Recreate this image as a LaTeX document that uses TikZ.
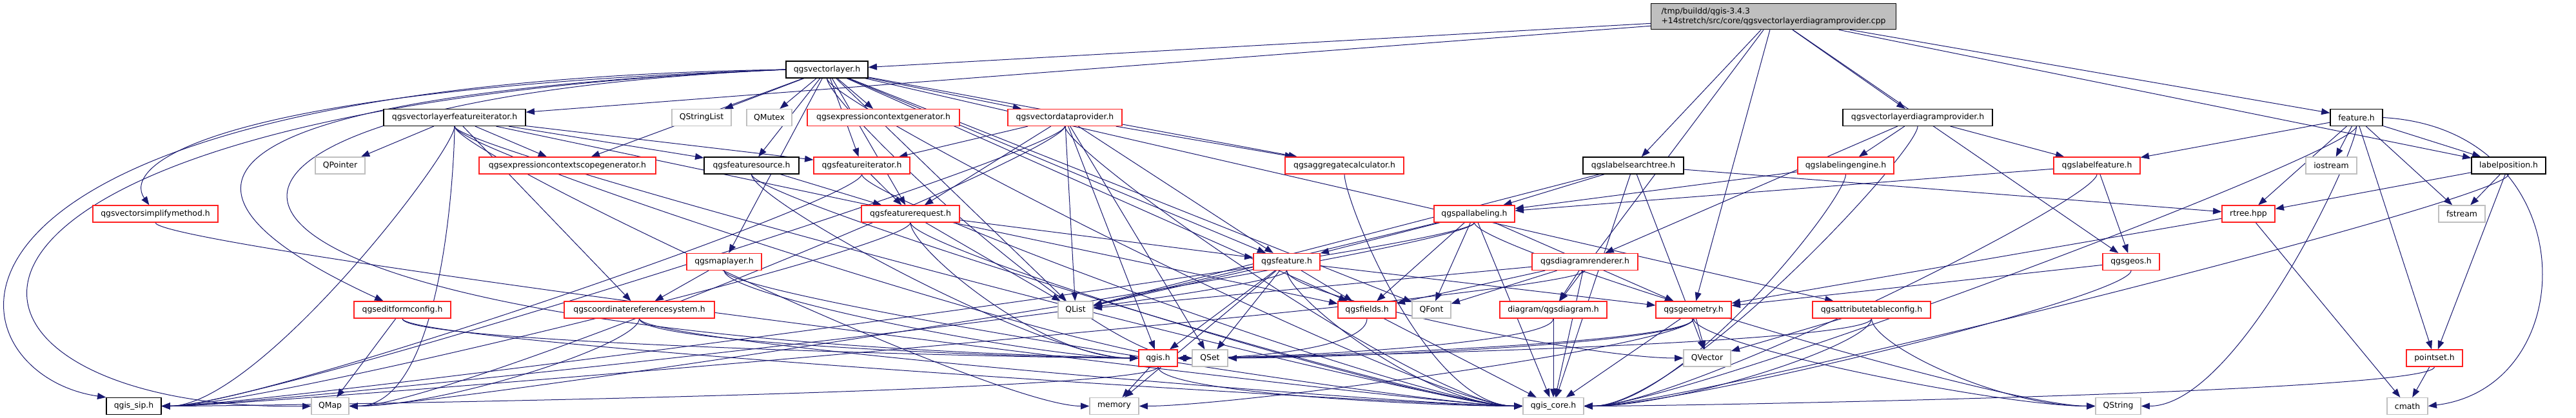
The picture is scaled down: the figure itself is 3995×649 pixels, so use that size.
\documentclass[tikz,border=0pt]{standalone}
\usepackage{fontspec}
\setmainfont{DejaVu Sans}
\usetikzlibrary{arrows.meta}
\definecolor{edgeblue}{HTML}{191970}
\definecolor{boxgray}{HTML}{BFBFBF}
\definecolor{boxred}{HTML}{FF2020}
\pgfdeclarelayer{edges}
\pgfsetlayers{edges,main}

\begin{document}
\begin{tikzpicture}[x=0.75pt,y=-0.75pt,
    file/.style={draw=black, fill=white, line width=0.9pt, minimum height=19.5pt,
      inner sep=1pt, font=\fontsize{9.3}{11.2}\selectfont},
    part/.style={file, draw=boxred},
    sys/.style={file, draw=boxgray},
    srcfile/.style={file, fill=boxgray, align=left, minimum height=30pt},
    inc/.style={draw=edgeblue, line width=0.75pt, -{Triangle[length=10pt,width=7.5pt]}}]
  \useasboundingbox (0,0) rectangle (3995,649);
  % Source file
  \node[srcfile, minimum width=285pt] (top) at (2750.5,25.7)
    {/tmp/buildd/qgis-3.4.3\\+14stretch/src/core/qgsvectorlayerdiagramprovider.cpp};
  % Row 1
  \node[file, minimum width=95.25pt] (vl) at (1282.5,108) {qgsvectorlayer.h};
  % Row 2
  \node[file, minimum width=165pt] (vlfi) at (705,182.5) {qgsvectorlayerfeatureiterator.h};
  \node[sys, minimum width=69pt] (qsl) at (1088,182.5) {QStringList};
  \node[sys, minimum width=52.5pt] (qmutex) at (1193,182.5) {QMutex};
  \node[part, minimum width=177pt] (ecg) at (1370,182.5) {qgsexpressioncontextgenerator.h};
  \node[part, minimum width=132.75pt] (vdp) at (1651.5,182.5) {qgsvectordataprovider.h};
  \node[file, minimum width=174pt] (vldp) at (2974,182.5) {qgsvectorlayerdiagramprovider.h};
  \node[file, minimum width=60.75pt] (feat) at (3654.5,182.5) {feature.h};
  % Row 3
  \node[sys, minimum width=57.75pt] (qptr) at (527.5,257) {QPointer};
  \node[part, minimum width=205.5pt] (ecsg) at (880,257) {qgsexpressioncontextscopegenerator.h};
  \node[file, minimum width=110.25pt] (fsrc) at (1165.5,257) {qgsfeaturesource.h};
  \node[part, minimum width=111.75pt] (fit) at (1336.5,257) {qgsfeatureiterator.h};
  \node[part, minimum width=138pt] (agg) at (2085,257) {qgsaggregatecalculator.h};
  \node[file, minimum width=117pt] (lst) at (2533,257) {qgslabelsearchtree.h};
  \node[part, minimum width=111.75pt] (leng) at (2862.5,257) {qgslabelingengine.h};
  \node[part, minimum width=100.5pt] (lfeat) at (3252,257) {qgslabelfeature.h};
  \node[sys, minimum width=59.25pt] (iostr) at (3615.5,257) {iostream};
  \node[file, minimum width=86.25pt] (lpos) at (3890.5,257) {labelposition.h};
  % Row 4
  \node[part, minimum width=145.5pt] (vsimp) at (241,332) {qgsvectorsimplifymethod.h};
  \node[part, minimum width=114pt] (freq) at (1412,332) {qgsfeaturerequest.h};
  \node[part, minimum width=93.75pt] (pal) at (2286.5,332) {qgspallabeling.h};
  \node[part, minimum width=61.5pt] (rtree) at (3487,332) {rtree.hpp};
  \node[sys, minimum width=54pt] (fstr) at (3818,332) {fstream};
  % Row 5
  \node[part, minimum width=87pt] (mlayer) at (1123,406.5) {qgsmaplayer.h};
  \node[part, minimum width=77.25pt] (qfeat) at (1995.5,406.5) {qgsfeature.h};
  \node[part, minimum width=123pt] (drend) at (2458,406.5) {qgsdiagramrenderer.h};
  \node[part, minimum width=66pt] (geos) at (3305,406.5) {qgsgeos.h};
  % Row 6
  \node[part, minimum width=112.5pt] (efc) at (624,481) {qgseditformconfig.h};
  \node[part, minimum width=174.75pt] (crs) at (991.5,481) {qgscoordinatereferencesystem.h};
  \node[sys, minimum width=40.5pt] (qlist) at (1668,481) {QList};
  \node[part, minimum width=67.5pt] (fields) at (2120,481) {qgsfields.h};
  \node[sys, minimum width=45pt] (qfont) at (2220,481) {QFont};
  \node[part, minimum width=124.5pt] (diag) at (2409,481) {diagram/qgsdiagram.h};
  \node[part, minimum width=87.75pt] (geom) at (2626.5,481) {qgsgeometry.h};
  \node[part, minimum width=137.25pt] (atc) at (2902.5,481) {qgsattributetableconfig.h};
  % Row 7
  \node[part, minimum width=45pt] (qgis) at (1796,556) {qgis.h};
  \node[sys, minimum width=41.25pt] (qset) at (1876.5,556) {QSet};
  \node[sys, minimum width=54.75pt] (qvec) at (2647.5,556) {QVector};
  \node[part, minimum width=65.25pt] (pset) at (3775.5,556) {pointset.h};
  % Row 8
  \node[file, minimum width=63.75pt] (sip) at (207.5,630.5) {qgis\_sip.h};
  \node[sys, minimum width=43.5pt] (qmap) at (512,630.5) {QMap};
  \node[sys, minimum width=57pt] (mem) at (1728,630.5) {memory};
  \node[sys, minimum width=70.5pt] (core) at (2409,630.5) {qgis\_core.h};
  \node[sys, minimum width=52.5pt] (qstr) at (3285,630.5) {QString};
  \node[sys, minimum width=47.25pt] (cmath) at (3733.5,630.5) {cmath};

  \begin{pgfonlayer}{edges}
  % includes of the source file
  \foreach \t in {vl,vlfi,lst,geom,diag,vldp,feat,lpos,geos}
    \draw[inc] (top) -- (\t);
  % qgsvectorlayer.h
  \foreach \t in {qsl,qmutex,ecg,vdp,ecsg,fsrc,fit,freq,agg,mlayer,qfeat,fields,qfont,atc,qlist}
    \draw[inc] (vl) -- (\t);
  \foreach \t in {core,qset}
    \draw[inc] (vl.south) .. controls +(0,40) and +(-150,0) .. (\t.west);
  \draw[inc] (vl.west) .. controls (-200,130) and (-90,580) .. (sip.north west);
  \draw[inc] (vl.west) .. controls (-250,170) and (-150,640) .. (qmap.west);
  \draw[inc] (vl.west) .. controls (300,140) and (190,260) .. (vsimp);
  \draw[inc] (vl.west) .. controls (250,150) and (230,300) .. (efc);
  \draw[inc] (vl.west) .. controls (80,160) and (150,520) .. (qgis.west);
  % qgsvectorlayerfeatureiterator.h
  \foreach \t in {qptr,ecsg,fsrc,fit,fields,crs}
    \draw[inc] (vlfi) -- (\t);
  \foreach \t in {qset,mem,core}
    \draw[inc] (vlfi.south) .. controls +(0,40) and +(-150,0) .. (\t.west);
  \foreach \t in {sip,qmap}
    \draw[inc] (vlfi.south) .. controls +(0,40) and +(150,0) .. (\t.east);
  % qgsvectordataprovider.h
  \foreach \t in {freq,fit,agg,qlist,qfeat,qgis,qset}
    \draw[inc] (vdp) -- (\t);
  \draw[inc] (vdp.south) .. controls +(0,40) and +(-150,0) .. (core.west);
  \foreach \t in {qmap,sip}
    \draw[inc] (vdp.south) .. controls +(0,40) and +(150,0) .. (\t.east);
  % feature sources, iterators, requests
  \draw[inc] (fsrc) -- (freq);
  \foreach \t in {qgis,core}
    \draw[inc] (fsrc.south) .. controls +(0,40) and +(-150,0) .. (\t.west);
  \draw[inc] (fit) -- (freq);
  \draw[inc] (fit.south) .. controls +(0,40) and +(-150,0) .. (core.west);
  \draw[inc] (fit.south) .. controls +(0,40) and +(150,0) .. (sip.east);
  \foreach \t in {qfeat,qlist}
    \draw[inc] (freq) -- (\t);
  \foreach \t in {core,qgis}
    \draw[inc] (freq.south) .. controls +(0,40) and +(-150,0) .. (\t.west);
  \draw[inc] (freq.south) .. controls +(0,40) and +(150,0) .. (sip.east);
  \draw[inc] (agg.south) .. controls +(0,40) and +(-150,0) .. (core.west);
  \draw[inc] (vsimp.south) .. controls +(0,40) and +(-150,0) .. (core.west);
  \draw[inc] (efc) -- (qmap);
  \foreach \t in {core,qgis}
    \draw[inc] (efc.south) .. controls +(0,40) and +(-150,0) .. (\t.west);
  \draw[inc] (mlayer) -- (crs);
  \foreach \t in {qgis,core}
    \draw[inc] (mlayer.south) .. controls +(0,40) and +(-150,0) .. (\t.west);
  \draw[inc] (crs.south) .. controls +(0,40) and +(150,0) .. (qmap.east);
  \foreach \t in {core,qgis}
    \draw[inc] (crs.south) .. controls +(0,40) and +(-150,0) .. (\t.west);
  \foreach \t in {fields,qlist,qgis,qset,mem,geom}
    \draw[inc] (qfeat) -- (\t);
  \foreach \t in {core,qvec}
    \draw[inc] (qfeat.south) .. controls +(0,40) and +(-150,0) .. (\t.west);
  \draw[inc] (qfeat.south) .. controls +(0,40) and +(150,0) .. (sip.east);
  % labeling
  \foreach \t in {qfeat,fields,qfont,geom,qlist,core}
    \draw[inc] (pal) -- (\t);
  \draw[inc] (pal.south) .. controls +(0,40) and +(-150,0) .. (qstr.west);
  \foreach \t in {sip,qmap}
    \draw[inc] (pal.south) .. controls +(0,40) and +(150,0) .. (\t.east);
  \foreach \t in {pal,rtree,qlist,qvec,core}
    \draw[inc] (lst) -- (\t);
  \foreach \t in {fields,qfont,diag,qlist,core}
    \draw[inc] (drend) -- (\t);
  \draw[inc] (drend.south) .. controls +(0,40) and +(150,0) .. (sip.east);
  \draw[inc] (diag) -- (core);
  \draw[inc] (diag.south) .. controls +(0,40) and +(150,0) .. (qgis.east);
  \draw[inc] (fields) -- (core);
  \draw[inc] (fields.south) .. controls +(0,40) and +(150,0) .. (qgis.east);
  \foreach \t in {qvec,core}
    \draw[inc] (geom) -- (\t);
  \draw[inc] (geom.south) .. controls +(0,40) and +(-150,0) .. (qstr.west);
  \foreach \t in {qgis,qset,mem}
    \draw[inc] (geom.south) .. controls +(0,40) and +(150,0) .. (\t.east);
  \draw[inc] (geos) -- (geom);
  \draw[inc] (geos.south) .. controls +(0,40) and +(150,0) .. (core.east);
  \draw[inc] (atc) -- (qvec);
  \draw[inc] (atc.south) .. controls +(0,40) and +(-150,0) .. (qstr.west);
  \foreach \t in {core,qgis}
    \draw[inc] (atc.south) .. controls +(0,40) and +(150,0) .. (\t.east);
  \foreach \t in {leng,lfeat,drend}
    \draw[inc] (vldp) -- (\t);
  \draw[inc] (vldp.south) .. controls +(0,40) and +(150,0) .. (core.east);
  \draw[inc] (leng) -- (pal);
  \draw[inc] (leng.south) .. controls +(0,40) and +(150,0) .. (core.east);
  \foreach \t in {geos,pal}
    \draw[inc] (lfeat) -- (\t);
  \draw[inc] (lfeat.south) .. controls +(0,40) and +(150,0) .. (core.east);
  % pal internals
  \foreach \t in {lfeat,rtree,iostr,pset,fstr,lpos}
    \draw[inc] (feat) -- (\t);
  \foreach \t in {core,qstr}
    \draw[inc] (feat.south) .. controls +(0,40) and +(150,0) .. (\t.east);
  \draw[inc] (feat.east) .. controls (4010,200) and (4010,600) .. (cmath.east);
  \foreach \t in {rtree,fstr,pset}
    \draw[inc] (lpos) -- (\t);
  \draw[inc] (lpos.south) .. controls +(0,40) and +(150,0) .. (core.east);
  \foreach \t in {cmath,geom}
    \draw[inc] (rtree) -- (\t);
  \draw[inc] (pset) -- (cmath);
  \draw[inc] (pset.south) .. controls +(0,40) and +(150,0) .. (core.east);
  \draw[inc] (qgis) -- (mem);
  \draw[inc] (qgis.south) .. controls +(0,40) and +(-150,0) .. (core.west);
  \draw[inc] (qgis.south) .. controls +(0,40) and +(150,0) .. (sip.east);
  \end{pgfonlayer}
\end{tikzpicture}
\end{document}
